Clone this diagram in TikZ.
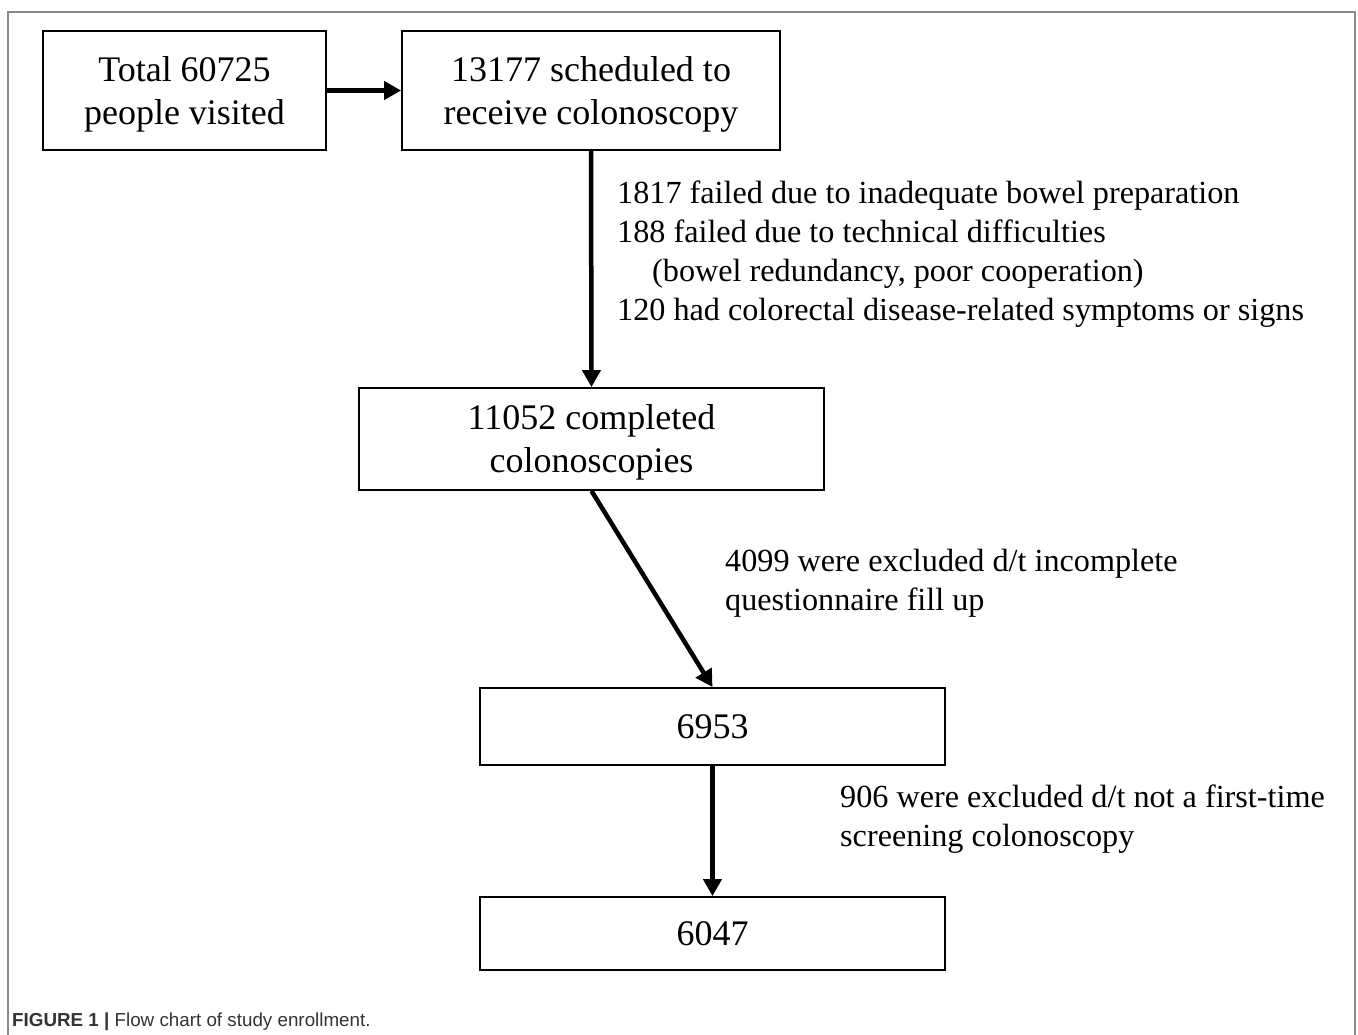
\documentclass[tikz,border=0pt]{standalone}
\usepackage{fontspec}
\setmainfont{Liberation Serif}
\newfontfamily\capfont{Liberation Sans}
\usetikzlibrary{arrows.meta}
\definecolor{framegray}{HTML}{8A8A8A}
\definecolor{captext}{HTML}{333333}
\begin{document}
\begin{tikzpicture}[x=1pt,y=-1pt,
  box/.style={draw=black, line width=1.8pt, rectangle, inner sep=0pt, text depth=0pt,
    font=\fontsize{36}{43}\selectfont, align=center},
  lbl/.style={inner sep=0pt, font=\fontsize{32.2}{39}\selectfont, align=left, anchor=west},
  arr/.style={line width=4.5pt, -{Triangle[length=17pt,width=18pt]}}
]
\useasboundingbox (0,0) rectangle (1358,1035);
\fill[white] (0,0) rectangle (1358,1035);
\draw[framegray, line width=2pt] (8,1036) -- (8,12) -- (1355,12) -- (1355,1036);

\node[box, minimum width=283pt, minimum height=119pt] (b1) at (184.5,90.5) {Total 60725\\people visited};
\node[box, minimum width=378pt, minimum height=119pt] (b2) at (591,90.5) {13177 scheduled to\\receive colonoscopy};
\node[box, minimum width=465pt, minimum height=102pt] (b3) at (591.5,439) {11052 completed\\colonoscopies};
\node[box, minimum width=465pt, minimum height=77pt] (b4) at (712.5,726.5) {6953};
\node[box, minimum width=465pt, minimum height=73pt] (b5) at (712.5,933.5) {6047};

\draw[arr] (b1.east) -- (b2.west);
\draw[arr] (b2.south) -- (b3.north);
\draw[arr] (b3.south) -- (b4.north);
\draw[arr] (b4.south) -- (b5.north);

\node[lbl] (t1) at (617,254) {1817 failed due to inadequate bowel preparation\\188 failed due to technical difficulties\\\hspace*{35pt}(bowel redundancy, poor cooperation)\\120 had colorectal disease-related symptoms or signs};
\node[lbl] (t2) at (725,583) {4099 were excluded d/t incomplete\\questionnaire fill up};
\node[lbl] (t3) at (840,819) {906 were excluded d/t not a first-time\\screening colonoscopy};

\node[anchor=base west, inner sep=0pt, text=captext, font=\capfont\fontsize{18.8}{22}\selectfont] (cap) at (12,1026) {\textbf{FIGURE 1 |} Flow chart of study enrollment.};
\end{tikzpicture}
\end{document}
